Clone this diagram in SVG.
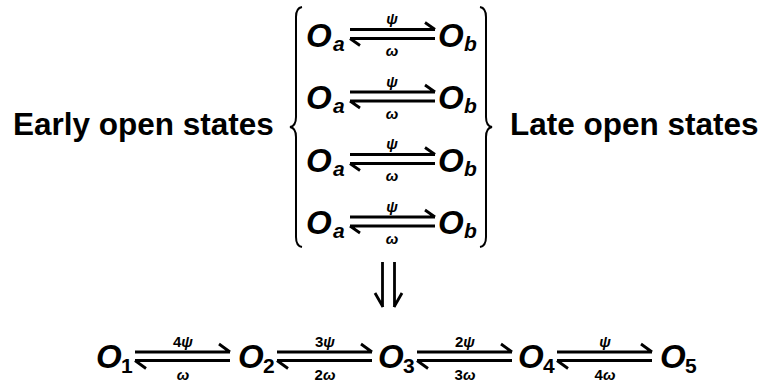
<svg xmlns="http://www.w3.org/2000/svg" width="764" height="383" viewBox="0 0 764 383">
<style>
text{font-family:"Liberation Sans",Arial,sans-serif;font-weight:bold;fill:#000}
.big{font-size:31.5px}
.O{font-size:33px;font-style:italic}
.subi{font-size:21px;font-style:italic}
.subn{font-size:21px}
.lbl{font-size:15px;text-anchor:middle}
.g{font-style:italic}
.ln{fill:none;stroke:#000;stroke-width:2.8;stroke-linecap:butt}
.br{fill:none;stroke:#000;stroke-width:2}
</style>
<rect width="764" height="383" fill="#fff"/>
<g id="label-early"><text class="big" x="13" y="134.5">Early open states</text></g>
<g id="label-late"><text class="big" x="510" y="134.5">Late open states</text></g>
<g id="brace-left"><path class="br" d="M302 7 Q296 8 296 17 L296 117 Q296 126 290 127 Q296 128 296 137 L296 237 Q296 246 302 247"/></g>
<g id="brace-right"><path class="br" d="M480 7 Q486 8 486 17 L486 117 Q486 126 492 127 Q486 128 486 137 L486 237 Q486 246 480 247"/></g>

<g id="row1-Oa"><text class="O" x="306" y="46.5">O</text><text class="subi" x="333" y="50.5">a</text></g>
<g id="row1-Ob"><text class="O" x="438" y="46.5">O</text><text class="subi" x="464" y="50.5">b</text></g>
<g id="row2-Oa"><text class="O" x="306" y="109">O</text><text class="subi" x="333" y="113">a</text></g>
<g id="row2-Ob"><text class="O" x="438" y="109">O</text><text class="subi" x="464" y="113">b</text></g>
<g id="row3-Oa"><text class="O" x="306" y="171.5">O</text><text class="subi" x="333" y="175.5">a</text></g>
<g id="row3-Ob"><text class="O" x="438" y="171.5">O</text><text class="subi" x="464" y="175.5">b</text></g>
<g id="row4-Oa"><text class="O" x="306" y="234">O</text><text class="subi" x="333" y="238">a</text></g>
<g id="row4-Ob"><text class="O" x="438" y="234">O</text><text class="subi" x="464" y="238">b</text></g>

<g id="O1"><text class="O" x="96" y="368">O</text><text class="subn" x="121" y="372.5">1</text></g>
<g id="O2"><text class="O" x="238" y="368">O</text><text class="subn" x="263" y="372.5">2</text></g>
<g id="O3"><text class="O" x="378" y="368">O</text><text class="subn" x="403" y="372.5">3</text></g>
<g id="O4"><text class="O" x="518" y="368">O</text><text class="subn" x="543" y="372.5">4</text></g>
<g id="O5"><text class="O" x="660" y="368">O</text><text class="subn" x="685" y="372.5">5</text></g>

<g id="connectors">
<g id="top-harpoons">
<path class="ln" d="M350 29.5H435M435 29.5L425 22.5M350 38.5H435M350 38.5L360 45.5"/>
<path class="ln" d="M350 92H435M435 92L425 85M350 101H435M350 101L360 108"/>
<path class="ln" d="M350 154.5H435M435 154.5L425 147.5M350 163.5H435M350 163.5L360 170.5"/>
<path class="ln" d="M350 217H435M435 217L425 210M350 226H435M350 226L360 233"/>
<text class="lbl g" x="392" y="24">ψ</text><text class="lbl g" x="392" y="56">ω</text>
<text class="lbl g" x="392" y="86.5">ψ</text><text class="lbl g" x="392" y="118.5">ω</text>
<text class="lbl g" x="392" y="149">ψ</text><text class="lbl g" x="392" y="181">ω</text>
<text class="lbl g" x="392" y="211.5">ψ</text><text class="lbl g" x="392" y="243.5">ω</text>
</g>
<g id="implies">
<path class="ln" d="M382.5 262V307M394.5 262V307M375 293L383 307M402 293L394 307" stroke-width="2.6"/>
</g>
<g id="bottom-harpoons">
<path class="ln" d="M135 352H230M230 352L219 344M135 360.5H230M135 360.5L146 368.5"/>
<path class="ln" d="M277 352H372M372 352L361 344M277 360.5H372M277 360.5L288 368.5"/>
<path class="ln" d="M417 352H512M512 352L501 344M417 360.5H512M417 360.5L428 368.5"/>
<path class="ln" d="M557 352H652M652 352L641 344M557 360.5H652M557 360.5L568 368.5"/>
<text class="lbl" x="183" y="347">4<tspan class="g">ψ</tspan></text><text class="lbl g" x="183" y="380">ω</text>
<text class="lbl" x="325" y="347">3<tspan class="g">ψ</tspan></text><text class="lbl" x="325" y="380">2<tspan class="g">ω</tspan></text>
<text class="lbl" x="465" y="347">2<tspan class="g">ψ</tspan></text><text class="lbl" x="465" y="380">3<tspan class="g">ω</tspan></text>
<text class="lbl g" x="605" y="347">ψ</text><text class="lbl" x="605" y="380">4<tspan class="g">ω</tspan></text>
</g>
</g>
</svg>
